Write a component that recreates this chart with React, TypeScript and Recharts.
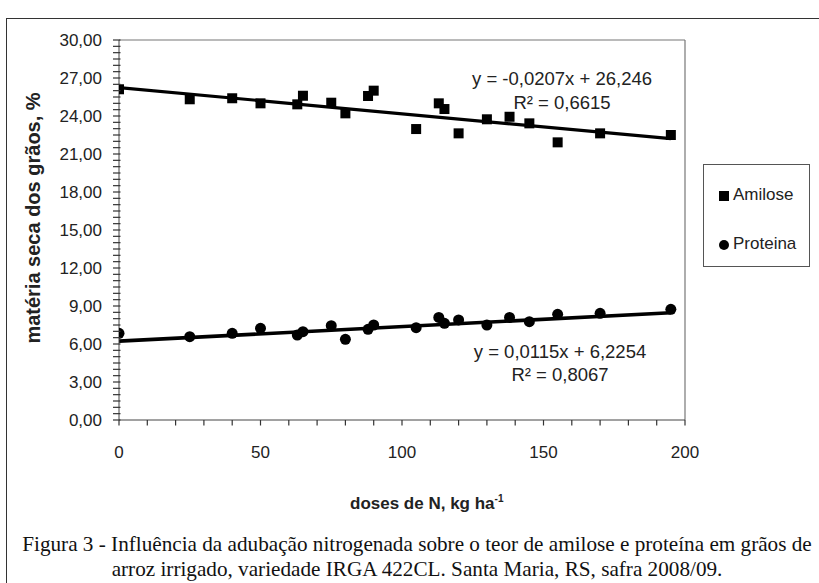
import React from 'react';
import { ComposedChart, Scatter, Line, XAxis, YAxis, ReferenceLine } from 'recharts';

// Doses of N (kg/ha)
const doses = [0, 25, 40, 50, 63, 65, 75, 80, 88, 90, 105, 113, 115, 120, 130, 138, 145, 155, 170, 195];
// Amilose (%)
const amilose = [26.11, 25.32, 25.4, 25.0, 24.92, 25.6, 25.05, 24.21, 25.58, 26.0, 22.97, 25.0, 24.55, 22.63, 23.74, 23.94, 23.42, 21.92, 22.63, 22.5];
// Proteína (%)
const proteina = [6.84, 6.58, 6.84, 7.24, 6.71, 6.97, 7.45, 6.37, 7.16, 7.5, 7.29, 8.1, 7.63, 7.9, 7.5, 8.1, 7.76, 8.34, 8.42, 8.74];

// Regression equations shown in the chart
const amiloseSlope = -0.0207;
const amiloseIntercept = 26.246;
const proteinaSlope = 0.0115;
const proteinaIntercept = 6.2254;
const trendRange = [0, 195];

const xTickLabels = [0, 50, 100, 150, 200];
const yTickLabels = [0, 3, 6, 9, 12, 15, 18, 21, 24, 27, 30];

const amiloseData = doses.map((x, i) => ({ x, y: amilose[i] }));
const proteinaData = doses.map((x, i) => ({ x, y: proteina[i] }));
const amiloseTrend = trendRange.map((x) => ({ x, y: amiloseSlope * x + amiloseIntercept }));
const proteinaTrend = trendRange.map((x) => ({ x, y: proteinaSlope * x + proteinaIntercept }));

const xTicks: number[] = [];
for (let v = 0; v <= 200; v += 10) xTicks.push(v);
const yTicks: number[] = [];
for (let k = 0; k <= 60; k++) yTicks.push(k / 2);

const SANS = "'Liberation Sans', Arial, sans-serif";
const SERIF = "'Liberation Serif', 'Times New Roman', serif";

const SquareShape = (p: any) => (
  <rect x={p.cx - 5} y={p.cy - 5} width={10} height={10} fill="#000" />
);
const CircleShape = (p: any) => <circle cx={p.cx} cy={p.cy} r={5.5} fill="#000" />;

const isMajorY = (v: number) => yTickLabels.some((t) => Math.abs(t - v) < 1e-9);

// y tick: label anchored at x (= axis - 17); draws its own tick mark
const YTick = (p: any) => {
  const v = p.payload.value;
  const major = isMajorY(v);
  const ax = p.x + 17;
  return (
    <g>
      <line
        x1={ax - 6}
        x2={ax + 1.5}
        y1={p.y}
        y2={p.y}
        stroke="#333"
        strokeWidth={1.2}
      />
      {major && (
        <text
          x={p.x}
          y={p.y}
          dy="0.355em"
          textAnchor="end"
          fill="#222"
          fontSize={17}
          fontFamily={SANS}
        >
          {v.toFixed(2).replace('.', ',')}
        </text>
      )}
    </g>
  );
};

// x tick: label top at y (= axis + 26); draws its own tick mark
const XTick = (p: any) => {
  const v = p.payload.value;
  const ay = p.y - 26;
  return (
    <g>
      <line x1={p.x} x2={p.x} y1={ay} y2={ay + 5.5} stroke="#333" strokeWidth={1.2} />
      {xTickLabels.includes(v) && (
        <text
          x={p.x}
          y={p.y}
          dy="0.71em"
          textAnchor="middle"
          fill="#222"
          fontSize={17}
          fontFamily={SANS}
        >
          {String(v)}
        </text>
      )}
    </g>
  );
};

export default function App() {
  return (
    <div
      style={{
        position: 'absolute',
        left: 0,
        top: 0,
        width: 819,
        height: 583,
        overflow: 'hidden',
        background: '#fff',
      }}
    >
      {/* outer frame */}
      <div
        style={{
          position: 'absolute',
          left: 6,
          top: 18,
          width: 900,
          height: 700,
          border: '1.5px solid #333',
        }}
      />
      <div style={{ position: 'absolute', left: 0, top: 0 }}>
        <ComposedChart
          width={819}
          height={583}
          margin={{ top: 40, right: 134, bottom: 123, left: 0 }}
        >
          <XAxis
            type="number"
            dataKey="x"
            domain={[0, 200]}
            ticks={xTicks}
            interval={0}
            height={40}
            stroke="#444"
            tickLine={false}
            tickSize={5}
            tickMargin={21}
            tick={<XTick />}
            allowDataOverflow
          />
          <YAxis
            type="number"
            dataKey="y"
            domain={[0, 30]}
            ticks={yTicks}
            interval={0}
            width={119}
            stroke="#444"
            tickLine={false}
            tickSize={5}
            tickMargin={12}
            tick={<YTick />}
            allowDataOverflow
          />
          <ReferenceLine y={30} stroke="#777" strokeWidth={1.2} />
          <ReferenceLine x={200} stroke="#777" strokeWidth={1.2} />
          <Line
            data={amiloseTrend}
            dataKey="y"
            stroke="#000"
            strokeWidth={3.2}
            dot={false}
            activeDot={false}
            isAnimationActive={false}
            legendType="none"
          />
          <Line
            data={proteinaTrend}
            dataKey="y"
            stroke="#000"
            strokeWidth={3.6}
            dot={false}
            activeDot={false}
            isAnimationActive={false}
            legendType="none"
          />
          <Scatter data={amiloseData} shape={SquareShape} isAnimationActive={false} name="Amilose" />
          <Scatter data={proteinaData} shape={CircleShape} isAnimationActive={false} name="Proteina" />
        </ComposedChart>
      </div>

      {/* equations */}
      <div
        style={{
          position: 'absolute',
          left: 412,
          top: 67,
          width: 300,
          textAlign: 'center',
          fontFamily: SANS,
          fontSize: 18.5,
          lineHeight: '24px',
          color: '#222',
        }}
      >
        <div>y = -0,0207x + 26,246</div>
        <div>R² = 0,6615</div>
      </div>
      <div
        style={{
          position: 'absolute',
          left: 410,
          top: 340,
          width: 300,
          textAlign: 'center',
          fontFamily: SANS,
          fontSize: 18.5,
          lineHeight: '23px',
          color: '#222',
        }}
      >
        <div>y = 0,0115x + 6,2254</div>
        <div>R² = 0,8067</div>
      </div>

      {/* legend */}
      <div
        style={{
          position: 'absolute',
          left: 703,
          top: 164,
          width: 107,
          height: 103,
          border: '1px solid #555',
          boxSizing: 'border-box',
          fontFamily: SANS,
          fontSize: 17,
          color: '#222',
        }}
      >
        <div style={{ position: 'absolute', left: 15, top: 26, width: 10, height: 10, background: '#000' }} />
        <div style={{ position: 'absolute', left: 29, top: 20, lineHeight: '20px' }}>Amilose</div>
        <div
          style={{
            position: 'absolute',
            left: 15,
            top: 75,
            width: 10,
            height: 10,
            borderRadius: '50%',
            background: '#000',
          }}
        />
        <div style={{ position: 'absolute', left: 29, top: 69, lineHeight: '20px' }}>Proteina</div>
      </div>

      {/* y axis title */}
      <div
        style={{
          position: 'absolute',
          left: 33,
          top: 218,
          transform: 'translate(-50%, -50%) rotate(-90deg)',
          whiteSpace: 'nowrap',
          fontFamily: SANS,
          fontWeight: 'bold',
          fontSize: 20,
          color: '#222',
        }}
      >
        matéria seca dos grãos, %
      </div>

      {/* x axis title */}
      <div
        style={{
          position: 'absolute',
          left: 350,
          top: 488,
          whiteSpace: 'nowrap',
          fontFamily: SANS,
          fontWeight: 'bold',
          fontSize: 17,
          lineHeight: '22px',
          color: '#222',
        }}
      >
        doses de N, kg ha<sup style={{ fontSize: 10 }}>-1</sup>
      </div>

      {/* caption */}
      <div
        style={{
          position: 'absolute',
          left: 0,
          top: 532,
          width: 834,
          textAlign: 'center',
          fontFamily: SERIF,
          fontSize: 21.2,
          lineHeight: '25px',
          color: '#111',
          whiteSpace: 'nowrap',
        }}
      >
        <div>Figura 3 - Influência da adubação nitrogenada sobre o teor de amilose e proteína em grãos de</div>
        <div>arroz irrigado, variedade IRGA 422CL. Santa Maria, RS, safra 2008/09.</div>
      </div>
    </div>
  );
}
